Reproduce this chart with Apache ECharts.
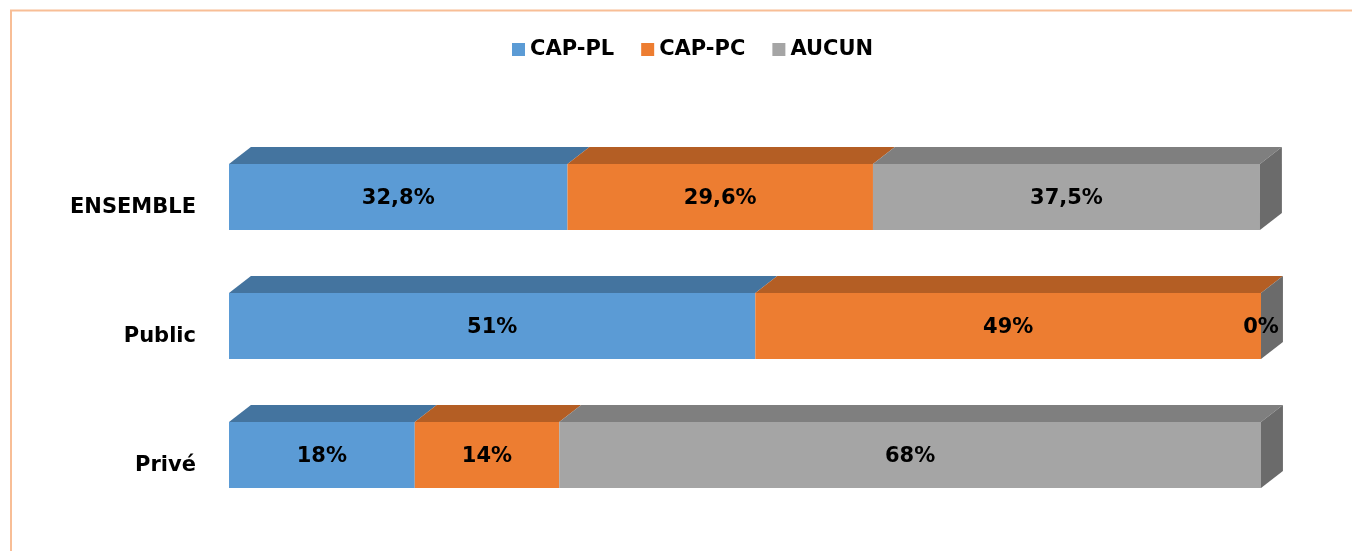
<!DOCTYPE html>
<html><head><meta charset="utf-8">
<script src="https://cdn.jsdelivr.net/npm/echarts@6/dist/echarts.min.js"></script>
<style>html,body{margin:0;padding:0;background:#fff}#c{width:1352px;height:551px}</style>
</head><body><div id="c"></div>
<script>
const categories = ['ENSEMBLE', 'Public', 'Privé'];
const seriesNames = ['CAP-PL', 'CAP-PC', 'AUCUN'];
const capPL = [32.8, 51, 18];
const capPC = [29.6, 49, 14];
const aucun = [37.5, 0, 68];

const values = [capPL, capPC, aucun];
const frontColors = ['#5B9BD5', '#ED7D31', '#A5A5A5'];
const topColors = ['#44749F', '#B45E24', '#7F7F7F'];
const sideColor = '#6B6B6B';
const FONT = '"DejaVu Sans", Verdana, sans-serif';

function fmt(v) { return String(v).replace('.', ',') + '%'; }

const cum = categories.map(() => 0);
const series = values.map((arr, si) => {
  const data = arr.map((v, ci) => {
    const s = cum[ci];
    cum[ci] += v;
    return [s, s + v, ci, v];
  });
  const isLast = si === values.length - 1;
  return {
    name: seriesNames[si],
    type: 'custom',
    itemStyle: { color: frontColors[si] },
    encode: { x: [0, 1], y: 2 },
    data: data,
    renderItem: function (params, api) {
      const start = api.value(0), end = api.value(1), cat = api.value(2), v = api.value(3);
      const p0 = api.coord([start, cat]);
      const p1 = api.coord([end, cat]);
      const band = api.size([0, 1])[1];
      const h = band * 0.512, dx = band * 0.17, dy = band * 0.132;
      const x0 = p0[0], x1 = p1[0], cy = p0[1];
      const yT = cy - h / 2, yB = cy + h / 2;
      const children = [
        { type: 'rect', shape: { x: x0, y: yT, width: x1 - x0, height: h }, style: { fill: frontColors[si] } },
        { type: 'polygon', shape: { points: [[x0, yT], [x1, yT], [x1 + dx, yT - dy], [x0 + dx, yT - dy]] }, style: { fill: topColors[si] } }
      ];
      if (isLast) {
        children.push({ type: 'polygon', shape: { points: [[x1, yT], [x1 + dx, yT - dy], [x1 + dx, yB - dy], [x1, yB]] }, style: { fill: sideColor } });
      }
      children.push({
        type: 'text', z2: 10,
        style: { text: fmt(v), x: (x0 + x1) / 2, y: cy + 2, align: 'center', verticalAlign: 'middle', font: 'bold 21px ' + FONT, fill: '#000' }
      });
      return { type: 'group', children: children };
    }
  };
});

const chart = echarts.init(document.getElementById('c'));
chart.setOption({
  animation: false,
  backgroundColor: '#fff',
  graphic: [{
    type: 'rect', shape: { x: 11, y: 10.5, width: 1400, height: 600 },
    style: { fill: 'none', stroke: '#F8BE96', lineWidth: 2 }, silent: true
  }],
  legend: {
    top: 34, left: 507, itemGap: 27, itemWidth: 13, itemHeight: 13, icon: 'rect',
    textStyle: { fontFamily: FONT, fontWeight: 'bold', fontSize: 21, color: '#000' },
    data: seriesNames
  },
  grid: { left: 229, right: 91, top: 132.5, bottom: 31.5, containLabel: false },
  xAxis: { type: 'value', min: 0, max: 100, show: false },
  yAxis: {
    type: 'category', data: categories, inverse: true,
    axisLine: { show: false }, axisTick: { show: false }, splitLine: { show: false },
    axisLabel: { margin: 33, fontFamily: FONT, fontWeight: 'bold', fontSize: 21, color: '#000', verticalAlign: 'top', lineHeight: 22 }
  },
  series: series
});
</script></body></html>
